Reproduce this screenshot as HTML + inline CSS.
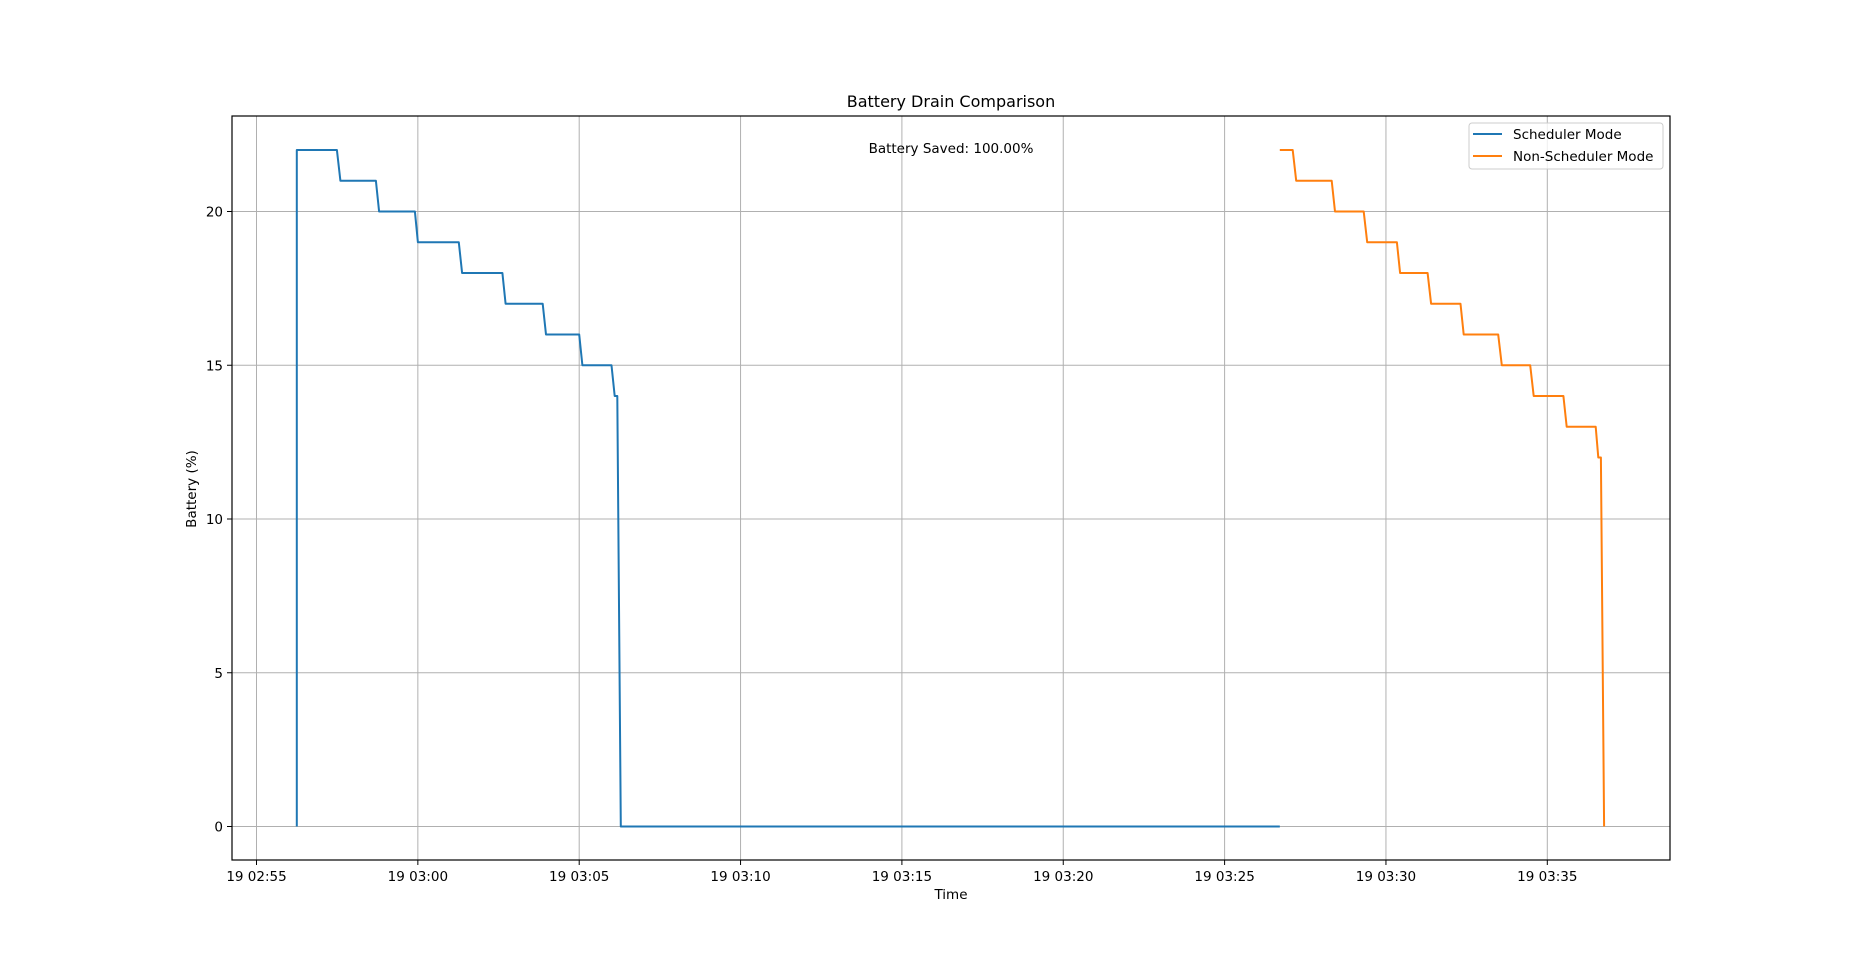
<!DOCTYPE html>
<html><head><meta charset="utf-8"><style>
html,body{margin:0;padding:0;background:#fff;}
svg text{font-family:"DejaVu Sans","Liberation Sans",sans-serif;fill:#000;}
</style></head><body>
<svg width="1854" height="965" xmlns="http://www.w3.org/2000/svg">
<rect width="1854" height="965" fill="#fff"/>
<g id="grid"></g>
<g id="series"></g>
<rect x="232" y="116" width="1438" height="744" fill="none" stroke="#000" stroke-width="1.2"/>
<g id="ticks"></g>
<text x="951" y="107" font-size="16" text-anchor="middle">Battery Drain Comparison</text>
<text x="951" y="153" font-size="13.5" text-anchor="middle">Battery Saved: 100.00%</text>
<text x="951" y="899" font-size="13.5" text-anchor="middle">Time</text>
<text x="0" y="0" font-size="13.5" text-anchor="middle" transform="translate(196,489) rotate(-90)">Battery (%)</text>
<g>
<rect x="1469" y="123" width="194" height="46" rx="3" fill="#fff" fill-opacity="0.8" stroke="#ccc"/>
<line x1="1473" y1="134" x2="1502" y2="134" stroke="#1f77b4" stroke-width="2"/>
<text x="1513" y="139" font-size="13.5">Scheduler Mode</text>
<line x1="1473" y1="156" x2="1502" y2="156" stroke="#ff7f0e" stroke-width="2"/>
<text x="1513" y="161" font-size="13.5">Non-Scheduler Mode</text>
</g>
</svg>
<script>
// minutes after 02:55
const schedTimes = [1.25,1.25,2.49,2.6,3.70,3.8,4.91,5.0,6.27,6.37,7.62,7.72,8.87,8.97,10.0,10.1,11.0,11.1,11.18,11.29,31.71];
const schedVals  = [0,22,22,21,21,20,20,19,19,18,18,17,17,16,16,15,15,14,14,0,0];
const nonTimes = [31.71,32.11,32.22,33.32,33.42,34.31,34.42,35.34,35.44,36.29,36.40,37.31,37.41,38.48,38.59,39.47,39.58,40.5,40.6,41.5,41.58,41.66,41.76];
const nonVals  = [22,22,21,21,20,20,19,19,18,18,17,17,16,16,15,15,14,14,13,13,12,12,0];
const xTickMin = [0,5,10,15,20,25,30,35,40];
const xTickLabels = ["19 02:55","19 03:00","19 03:05","19 03:10","19 03:15","19 03:20","19 03:25","19 03:30","19 03:35"];
const yTicks = [0,5,10,15,20];

const NS="http://www.w3.org/2000/svg";
const X0=256.5, PXMIN=32.27, Y0=826.5, PYU=30.75, L=232, R=1670, T=116, B=860;
function sx(m){return X0+m*PXMIN;}
function sy(v){return Y0-v*PYU;}
function mk(tag,attrs,parent){const e=document.createElementNS(NS,tag);for(const k in attrs)e.setAttribute(k,attrs[k]);parent.appendChild(e);return e;}
const grid=document.getElementById('grid'), ticks=document.getElementById('ticks'), ser=document.getElementById('series');
xTickMin.forEach((m,i)=>{
  const x=sx(m); if(x>R) return;
  const g=mk('line',{x1:x,x2:x,y1:T,y2:B,stroke:'#b0b0b0','stroke-width':1},grid);
  
  
  const t=mk('line',{x1:x,x2:x,y1:B,y2:B+5,stroke:'#000'},ticks);
  
  
  const tx=mk('text',{x:x,y:B+21,'font-size':13.5,'text-anchor':'middle'},ticks);
  tx.textContent=xTickLabels[i];
  
  
});
yTicks.forEach(v=>{
  const y=sy(v);
  const g=mk('line',{x1:L,x2:R,y1:y,y2:y,stroke:'#b0b0b0','stroke-width':1},grid);
  
  
  const t=mk('line',{x1:L-5,x2:L,y1:y,y2:y,stroke:'#000'},ticks);
  
  
  const tx=mk('text',{x:L-9,y:y+5,'font-size':13.5,'text-anchor':'end'},ticks);
  tx.textContent=String(v);
  
  
});
function line(ts,vs,color,name){
  const pts=ts.map((t,i)=>sx(t).toFixed(1)+','+sy(vs[i]).toFixed(1)).join(' ');
  const p=mk('polyline',{points:pts,fill:'none',stroke:color,'stroke-width':2,'stroke-linejoin':'round'},ser);
  
  
}
line(schedTimes,schedVals,'#1f77b4','scheduler-mode-line');
line(nonTimes,nonVals,'#ff7f0e','non-scheduler-mode-line');
</script>
</body></html>
